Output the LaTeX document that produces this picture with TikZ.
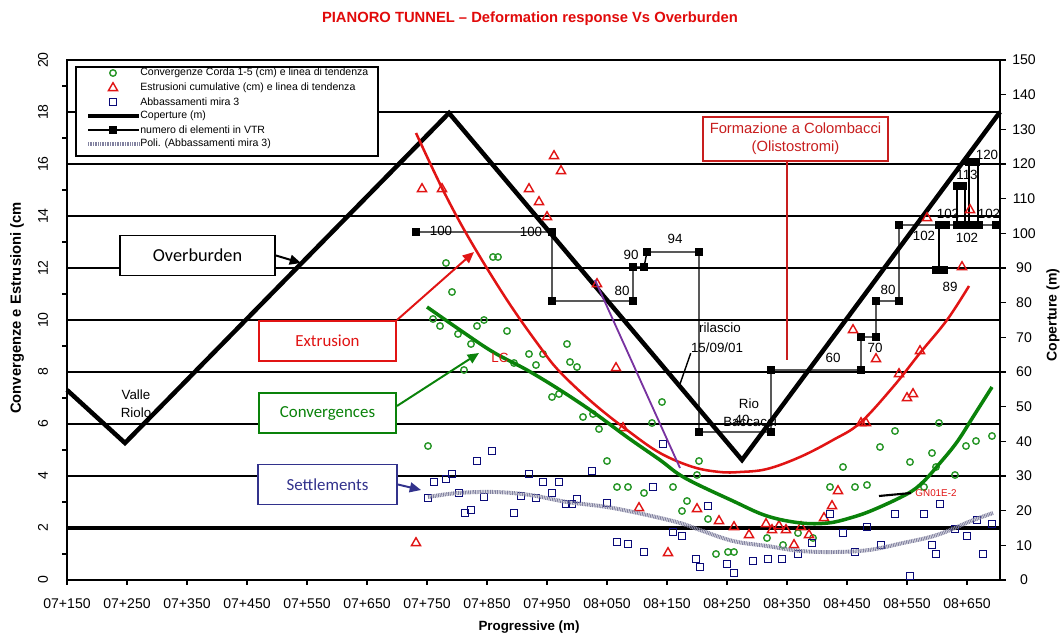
\documentclass[tikz,border=0pt]{standalone}
\usepackage{fontspec}
\setmainfont{Liberation Sans}
\newfontfamily\calibrifont{Carlito}
\usetikzlibrary{arrows.meta,shapes.geometric}

\definecolor{titlered}{RGB}{225,10,10}
\definecolor{convgreen}{RGB}{40,150,40}
\definecolor{trendgreen}{RGB}{10,130,10}
\definecolor{extrred}{RGB}{225,20,20}
\definecolor{settblue}{RGB}{10,10,120}
\definecolor{boxblue}{RGB}{50,50,140}
\definecolor{poligray}{RGB}{130,130,160}
\definecolor{lilac}{RGB}{120,50,160}
\definecolor{formred}{RGB}{200,30,30}

\tikzset{
  conv/.style={circle,draw=convgreen,line width=1pt,inner sep=0pt,minimum size=4.6pt},
  extr/.style={regular polygon,regular polygon sides=3,draw=extrred,line width=1pt,inner sep=0pt,minimum size=7.5pt},
  sett/.style={rectangle,draw=settblue,line width=1pt,inner sep=0pt,minimum size=5pt},
  vtrmark/.style={rectangle,fill=black,inner sep=0pt,minimum size=5pt},
  gridline/.style={line width=1pt},
  plotframe/.style={line width=2.1pt},
  coverline/.style={line width=3.2pt,line join=miter},
  poli/.style={poligray,line width=2.8pt,dash pattern=on 0.7pt off 0.5pt},
  ticklabel/.style={font=\fontsize{10}{12}\selectfont,inner sep=0pt},
  vtrlabel/.style={font=\fontsize{9.5}{11}\selectfont,inner sep=0pt},
  notetext/.style={font=\fontsize{9.5}{11}\selectfont,inner sep=0pt},
  calloutbox/.style={draw,fill=white,line width=1.4pt,minimum width=3.425cm,minimum height=1cm,font=\calibrifont\fontsize{12}{14}\selectfont},
  legtext/.style={anchor=west,inner sep=0pt,font=\fontsize{7.5}{9}\selectfont},
  pointer/.style={line width=1.4pt,-{Triangle[length=8pt,width=7pt]}}
}

\begin{document}
\begin{tikzpicture}[x=0.025cm,y=-0.025cm]
\useasboundingbox (0,0) rectangle (1061,637);

% title
\node[font=\bfseries\fontsize{10.5}{12}\selectfont,text=titlered] (title) at (530,19) {PIANORO TUNNEL – Deformation response Vs Overburden};

% grid and frame
\foreach \v in {4,6,...,18}
  \draw[gridline] (67,{580-26*\v}) -- (1000,{580-26*\v});
\draw[line width=2.8pt] (67,528) -- (1000,528);
\draw[plotframe] (67,60) rectangle (1000,580);

% left axis
\foreach \v in {1,3,...,19}
  \draw[line width=0.8pt] (62,{580-26*\v}) -- (67,{580-26*\v});
\foreach \v [count=\i] in {0,2,...,20}
  \node[ticklabel,rotate=90] (yl\i) at (43,{580-26*\v}) {\v};

% right axis
\foreach \w [count=\i] in {0,10,...,150} {
  \draw[line width=0.8pt] (1000,{580-3.4667*\w}) -- (1006,{580-3.4667*\w});
  \node[ticklabel] (wl\i) at (1024,{580-3.4667*\w}) {\w};
}

% bottom axis
\foreach \lab [count=\i from 0] in {07+150,07+250,07+350,07+450,07+550,07+650,07+750,07+850,07+950,08+050,08+150,08+250,08+350,08+450,08+550,08+650} {
  \draw[line width=0.8pt] ({67+60*\i},580) -- ({67+60*\i},585);
  \node[ticklabel] (xl\i) at ({67+60*\i},604) {\lab};
}

% axis titles
\node[rotate=90,font=\bfseries\fontsize{10.5}{12}\selectfont] (ytitle) at (17,308) {Convergenze e Estrusioni (cm};
\node[rotate=90,font=\bfseries\fontsize{10}{12}\selectfont] (wtitle) at (1053,315) {Coperture (m)};
\node[font=\bfseries\fontsize{9.5}{11}\selectfont] (xtitle) at (529,627) {Progressive (m)};

% overburden
\draw[coverline] (67,390) -- (125,443) -- (449,113) -- (742,460) -- (1000,112);

% elements in VTR
\draw[line width=1pt] (416,232) -- (552,232) -- (552,301) -- (633,301) -- (633,267) -- (644,267) -- (647,252) -- (699,252) -- (699,432) -- (771,432) -- (771,370) -- (861,370) -- (861,337) -- (876,337) -- (876,301) -- (899,301) -- (899,225) -- (1000,225);
\draw[line width=1pt] (939,225) -- (939,270) (936,270) -- (944,270);
\draw[line width=1pt] (957,225) -- (957,186) -- (965,186) -- (965,225);
\draw[line width=1pt] (969,225) -- (969,162) -- (978,162) -- (978,225);
\foreach \px/\py [count=\i] in {416/232,552/232,552/301,633/301,633/267,644/267,647/252,699/252,699/432,771/432,771/370,861/370,861/337,876/337,876/301,899/301,899/225,939/225,946/225,936/270,944/270,957/186,963/186,969/162,976/162,957/225,965/225,972/225,979/225,996/225}
  \node[vtrmark] (vt\i) at (\px,\py) {};

% convergences
\foreach \px/\py [count=\i] in {446/263,493/257,498/257,452/292,433/319,440/326,458/334,477/326,484/320,471/344,507/331,464/370,529/354,543/354,514/363,536/365,567/344,570/362,577/367,552/397,559/394,583/417,593/414,599/429,662/402,652/423,428/446,607/461,617/487,628/487,644/493,673/487,687/501,682/511,699/461,697/475,708/519,716/554,728/552,734/552,767/538,783/545,798/533,813/538,830/487,843/467,855/487,867/485,910/462,924/487,936/467,955/475,895/431,939/423,880/447,932/453,966/446,976/441,992/436}
  \node[conv] (cv\i) at (\px,\py) {};

% extrusions
\foreach \px/\py [count=\i] in {554/156,561/171,422/189,442/189,529/189,539/202,547/217,597/284,616/368,623/428,416/543,639/508,668/553,697/509,719/521,734/527,749/535,766/524,772/530,779/526,786/530,794/545,801/527,809/535,824/518,832/506,838/491,853/330,876/359,899/374,907/398,913/394,861/423,866/423,920/351,927/218,970/210,962/267}
  \node[extr] (ex\i) at (\px,\py) {};

% settlements
\foreach \px/\py [count=\i] in {663/444,492/451,477/461,452/474,529/474,592/471,446/479,434/482,543/482,559/482,428/498,459/493,484/497,521/496,536/498,552/493,566/504,572/504,577/499,607/503,465/513,471/510,514/513,653/487,617/542,628/544,644/552,673/532,682/536,708/506,696/559,700/567,727/564,734/573,753/561,768/559,782/559,798/554,812/543,830/514,843/533,855/552,867/527,881/545,895/514,910/576,924/514,932/545,936/554,940/504,955/529,967/536,977/520,983/554,992/524}
  \node[sett] (st\i) at (\px,\py) {};

% trend lines
\draw[extrred,line width=1.8pt] plot[smooth,tension=0.6] coordinates {(416,133) (443,190) (470,240) (507,300) (540,347) (560,372) (593,403) (627,430) (660,453) (693,467) (720,472) (740,472) (767,469) (800,457) (833,440) (860,423) (893,387) (920,353) (947,320) (969,286)};
\draw[trendgreen,line width=2.5pt] plot[smooth,tension=0.6] coordinates {(427,307) (460,330) (493,352) (527,370) (560,390) (593,412) (627,437) (660,460) (685,478) (733,501) (767,516) (801,523) (828,523) (850,518) (873,510) (907,494) (923,482) (940,463) (957,442) (973,417) (992,387)};
\draw[poli] plot[smooth,tension=0.6] coordinates {(428,497) (458,493) (495,492) (530,495) (567,502) (607,507) (647,515) (680,523) (700,530) (733,541) (767,546) (801,551) (835,552) (869,550) (903,543) (937,535) (971,521) (993,513)};
\draw[lilac,line width=1.3pt] (595,280) -- (680,468);

% VTR numbers
\node[vtrlabel] (n1) at (441,231) {100};
\node[vtrlabel] (n2) at (531,232) {100};
\node[vtrlabel] (n3) at (622,291) {80};
\node[vtrlabel] (n4) at (631,255) {90};
\node[vtrlabel] (n5) at (675,239) {94};
\node[vtrlabel] (n6) at (742,420) {40};
\node[vtrlabel] (n7) at (833,358) {60};
\node[vtrlabel] (n8) at (875,348) {70};
\node[vtrlabel] (n9) at (888,290) {80};
\node[vtrlabel] (n10) at (924,236) {102};
\node[vtrlabel] (n11) at (950,287) {89};
\node[vtrlabel] (n12) at (948,214) {102};
\node[vtrlabel] (n13) at (967,175) {113};
\node[vtrlabel] (n14) at (987,155) {120};
\node[vtrlabel] (n15) at (967,238) {102};
\node[vtrlabel] (n16) at (989,214) {102};

% site notes
\node[notetext] (valle) at (136,395) {Valle};
\node[notetext] (riolo) at (136,413) {Riolo};
\node[notetext] (ril1) at (720,328) {rilascio};
\node[notetext] (ril2) at (717,348) {15/09/01};
\coordinate (rilpt) at (680,384);
\draw[line width=1pt] (ril2.south west) -- (rilpt);
\node[notetext] (rio1) at (749,404) {Rio};
\node[notetext] (rio2) at (750,422) {Baccacci};
\node[notetext,text=extrred] (lc) at (500,358) {LC};
\node[inner sep=0pt,font=\fontsize{7}{8}\selectfont,text=extrred] (gn) at (936,493) {GN01E-2};
\coordinate (gnpt) at (879,496);
\draw[line width=1.5pt] ([xshift=-3pt]gn.west) -- (gnpt);

% formation
\node[draw=formred,line width=1pt,fill=white,align=center,text=formred,minimum width=4.625cm,minimum height=1.1cm,font=\fontsize{10.5}{13}\selectfont] (form) at (795.5,139) {Formazione a Colombacci\\(Olistostromi)};
\coordinate (formend) at (787,360);
\draw[formred,line width=1pt] (form.south -| formend) -- (formend);

% callouts
\node[calloutbox,minimum width=3.875cm,font=\calibrifont\fontsize{13}{15}\selectfont] (overbox) at (197.5,255.5) {Overburden};
\coordinate (overpt) at (301,263);
\draw[pointer] (overbox.east) -- (overpt);
\node[calloutbox,draw=extrred,text=extrred] (extrbox) at (327.5,341) {Extrusion};
\coordinate (extrpt) at (474,252);
\draw[pointer,extrred] (extrbox.north east) -- (extrpt);
\node[calloutbox,draw=trendgreen,text=trendgreen] (convbox) at (327.5,413) {Convergences};
\coordinate (convpt) at (479,353);
\draw[pointer,trendgreen] ([yshift=5pt]convbox.east) -- (convpt);
\node[calloutbox,draw=boxblue,text=boxblue,minimum width=3.475cm] (settbox) at (327.5,484.5) {Settlements};
\coordinate (settpt) at (421,490);
\draw[pointer,boxblue] (settbox.east) -- (settpt);

% legend
\draw[fill=white,line width=0.8pt] (76,67) rectangle (378,156);
\node[conv] (lg1) at (113,73) {};
\node[legtext] (lt1) at (140,73) {Convergenze Corda 1-5 (cm) e linea di tendenza};
\node[extr] (lg2) at (113,88) {};
\node[legtext] (lt2) at (140,88) {Estrusioni cumulative (cm) e linea di tendenza};
\node[sett] (lg3) at (113,102) {};
\node[legtext] (lt3) at (140,102) {Abbassamenti mira 3};
\draw[line width=2.5pt] (88,116) -- (139,116);
\node[legtext] (lt4) at (140,116) {Coperture (m)};
\draw[line width=1pt] (88,130) -- (139,130);
\node[vtrmark] (lg5) at (113,130) {};
\node[legtext] (lt5) at (140,130) {numero di elementi in VTR};
\draw[poli] (88,144) -- (139,144);
\node[legtext] (lt6) at (140,144) {Poli. (Abbassamenti mira 3)};

\end{tikzpicture}
\end{document}
